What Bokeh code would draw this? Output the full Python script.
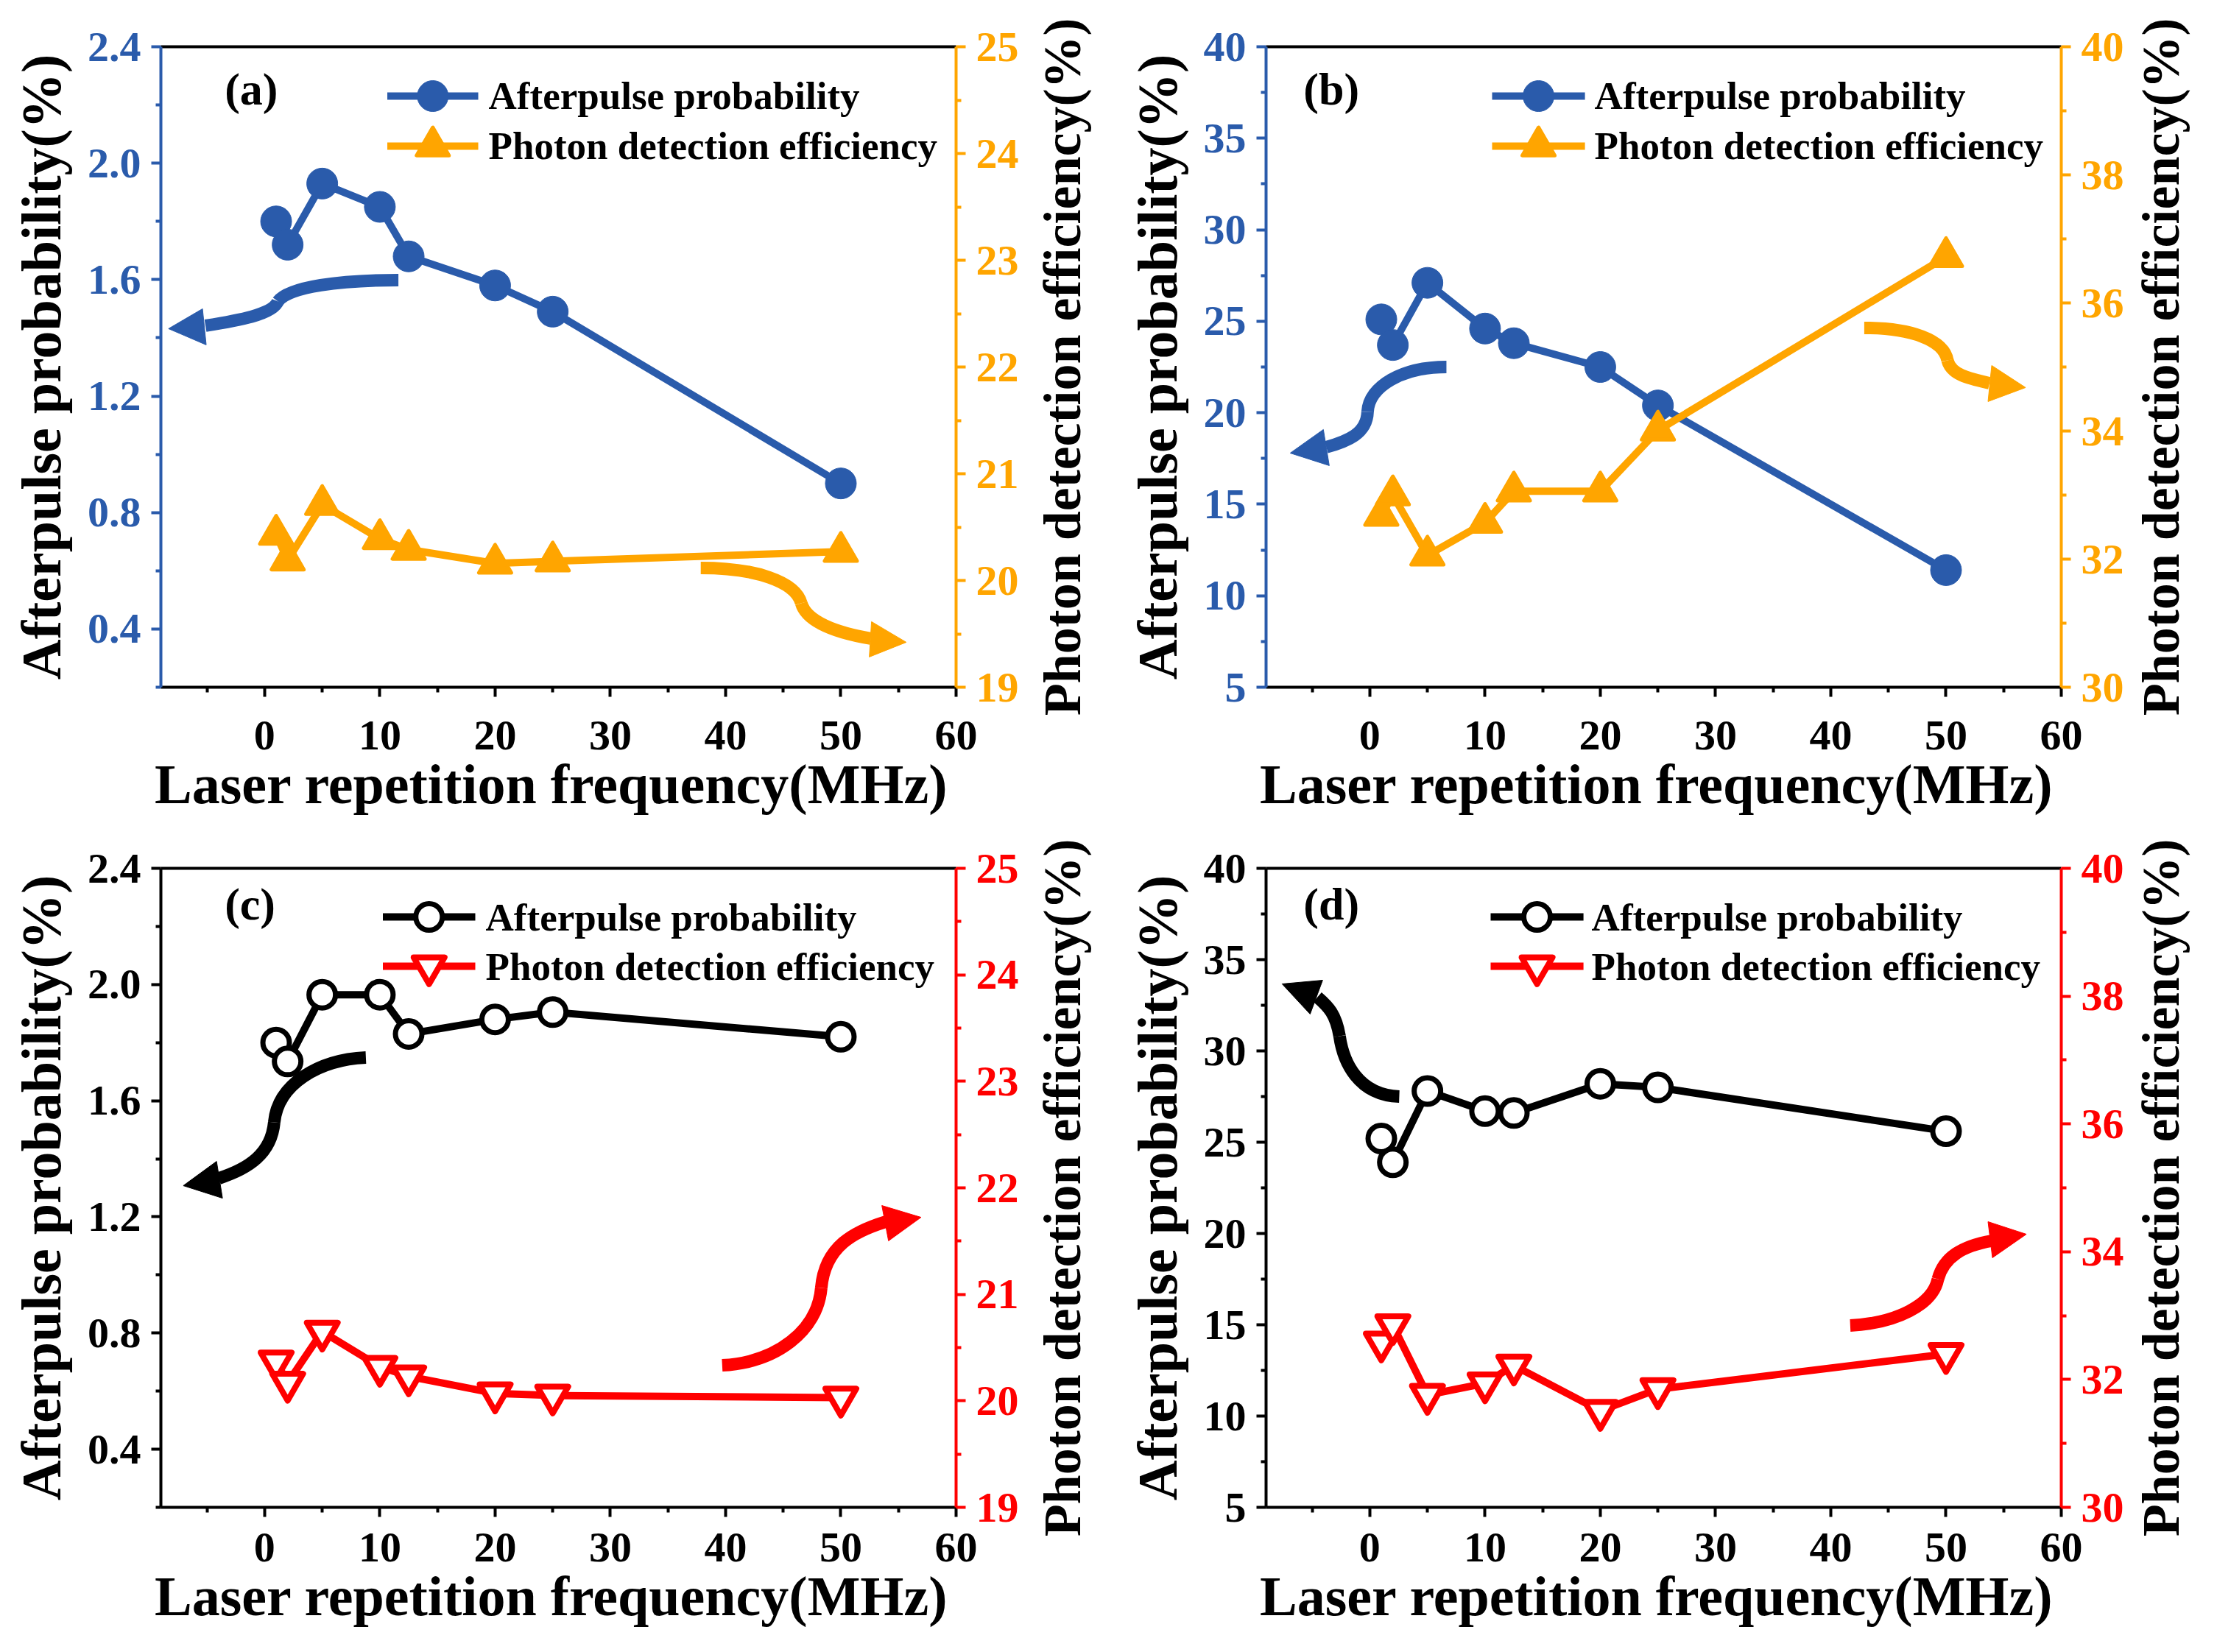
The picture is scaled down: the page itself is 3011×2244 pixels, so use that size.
from bokeh.plotting import figure
from bokeh.models import Range1d, LinearAxis, FixedTicker
from bokeh.layouts import gridplot
from bokeh.embed import file_html
from bokeh.resources import INLINE
from bokeh.core.properties import value

# ---------------- data ----------------
freq = [1, 2, 5, 10, 12.5, 20, 25, 50]

ap_a = [1.80, 1.72, 1.93, 1.85, 1.68, 1.58, 1.49, 0.90]
pde_a = [20.43, 20.19, 20.71, 20.39, 20.29, 20.16, 20.18, 20.27]

ap_b = [25.1, 23.7, 27.1, 24.6, 23.8, 22.5, 20.4, 11.4]
pde_b = [32.68, 33.00, 32.06, 32.57, 33.06, 33.06, 34.01, 36.72]

ap_c = [1.80, 1.735, 1.965, 1.965, 1.83, 1.88, 1.905, 1.82]
pde_c = [20.37, 20.17, 20.65, 20.32, 20.23, 20.07, 20.05, 20.03]

ap_d = [25.2, 23.9, 27.8, 26.7, 26.6, 28.2, 28.0, 25.6]
pde_d = [32.58, 32.85, 31.76, 31.94, 32.22, 31.51, 31.85, 32.40]

series_names = ["Afterpulse probability", "Photon detection efficiency"]
x_title = "Laser  repetition frequency(MHz)"
left_title = "Afterpulse probability(%)"
right_title = "Photon detection efficiency(%)"

x_ticks = [0, 10, 20, 30, 40, 50, 60]
x_minor = [-5, 5, 15, 25, 35, 45, 55]

ap_small_ticks = [0.4, 0.8, 1.2, 1.6, 2.0, 2.4]
ap_small_labels = ["0.4", "0.8", "1.2", "1.6", "2.0", "2.4"]
ap_small_minor = [0.2, 0.6, 1.0, 1.4, 1.8, 2.2]

ap_large_ticks = [5, 10, 15, 20, 25, 30, 35, 40]
ap_large_labels = ["5", "10", "15", "20", "25", "30", "35", "40"]
ap_large_minor = [7.5, 12.5, 17.5, 22.5, 27.5, 32.5, 37.5]

pde_small_ticks = [19, 20, 21, 22, 23, 24, 25]
pde_small_labels = ["19", "20", "21", "22", "23", "24", "25"]
pde_small_minor = [19.5, 20.5, 21.5, 22.5, 23.5, 24.5]

pde_large_ticks = [30, 32, 34, 36, 38, 40]
pde_large_labels = ["30", "32", "34", "36", "38", "40"]
pde_large_minor = [31, 33, 35, 37, 39]

BLUE = "#2A5BAB"
ORANGE = "#FFA500"
RED = "#FF0000"
BLACK = "#000000"
FONT = "Liberation Serif"

# calibration of reference pixels -> data (for annotations only)
CAL = {
    "a": dict(x0=367, xs=15.59, ytop=64, ypx=395.5, ymax=2.4),
    "b": dict(x0=1866, xs=15.64, ytop=64, ypx=24.86, ymax=40),
    "c": dict(x0=367, xs=15.59, ytop=1187, ypx=394.5, ymax=2.4),
    "d": dict(x0=1866, xs=15.64, ytop=1187, ypx=24.8, ymax=40),
}


def conv(tag, px, py):
    c = CAL[tag]
    return (px - c["x0"]) / c["xs"], c["ymax"] - (py - c["ytop"]) / c["ypx"]


ARROWS = {
    "a": [
        (BLUE, [(548, 381), (470, 381), (400, 390), (385, 410)],
         [(385, 410), (378, 428), (330, 436), (287, 443)],
         [(283, 420), (237, 447), (288, 469)]),
        (ORANGE, [(957, 772), (1030, 772), (1085, 790), (1093, 820)],
         [(1093, 820), (1100, 845), (1140, 860), (1187, 868)],
         [(1188, 845), (1235, 873), (1185, 893)]),
    ],
    "b": [
        (BLUE, [(1970, 499), (1910, 499), (1865, 525), (1863, 560)],
         [(1863, 560), (1862, 590), (1835, 600), (1807, 608)],
         [(1803, 584), (1758, 616), (1811, 633)]),
        (ORANGE, [(2537, 446), (2600, 446), (2645, 462), (2650, 490)],
         [(2650, 490), (2655, 510), (2680, 515), (2707, 521)],
         [(2710, 497), (2756, 527), (2705, 546)]),
    ],
    "c": [
        (BLACK, [(504, 1444), (440, 1447), (385, 1480), (380, 1532)],
         [(380, 1532), (376, 1575), (345, 1595), (305, 1608)],
         [(302, 1585), (257, 1618), (310, 1635)]),
        (RED, [(986, 1862), (1060, 1858), (1115, 1815), (1120, 1757)],
         [(1120, 1757), (1125, 1700), (1165, 1680), (1207, 1667)],
         [(1202, 1645), (1255, 1661), (1211, 1693)]),
    ],
    "d": [
        (BLACK, [(1906, 1497), (1850, 1495), (1830, 1450), (1825, 1415)],
         [(1825, 1415), (1820, 1385), (1810, 1375), (1795, 1362)],
         [(1802, 1339), (1747, 1344), (1785, 1385)]),
        (RED, [(2518, 1808), (2580, 1805), (2630, 1780), (2637, 1745)],
         [(2637, 1745), (2645, 1715), (2670, 1700), (2710, 1693)],
         [(2705, 1667), (2757, 1684), (2711, 1716)]),
    ],
}

TAG_POS = {"a": (313, 122), "b": (1776, 122), "c": (313, 1235), "d": (1776, 1235)}

# legend layout in reference pixels: line start, line end, text start, row1 y, row2 y
LEGEND_POS = {
    "a": (533, 656, 670, 131, 199),
    "b": (2032, 2158, 2171, 131, 199),
    "c": (527, 652, 666, 1253, 1320),
    "d": (2030, 2156, 2167, 1253, 1320),
}


def style_axis(ax, color, label_color=BLACK, standoff=14):
    ax.axis_line_color = color
    ax.axis_line_width = 4
    ax.major_tick_line_color = color
    ax.minor_tick_line_color = color
    ax.major_tick_line_width = 4
    ax.minor_tick_line_width = 4
    ax.major_tick_out = 13
    ax.major_tick_in = 0
    ax.minor_tick_out = 7
    ax.minor_tick_in = 0
    ax.major_label_text_color = color
    ax.major_label_text_font = FONT
    ax.major_label_text_font_style = "bold"
    ax.major_label_text_font_size = "58px"
    ax.major_label_standoff = standoff
    ax.axis_label_text_color = label_color
    ax.axis_label_text_font = FONT
    ax.axis_label_text_font_style = "bold"
    ax.axis_label_text_font_size = "76px"


def add_marks(p, xs, ys, color, open_mark, kind, y_range_name="default"):
    if kind == "circle":
        if open_mark:
            return p.scatter(xs, ys, marker="circle", size=36, fill_color="white",
                             line_color=color, line_width=7, y_range_name=y_range_name)
        return p.scatter(xs, ys, marker="circle", size=42, fill_color=color,
                         line_color=color, line_width=1, y_range_name=y_range_name)
    if open_mark:
        return p.scatter(xs, ys, marker="inverted_triangle", size=42, fill_color="white",
                         line_color=color, line_width=8, line_join="round",
                         y_range_name=y_range_name)
    return p.scatter(xs, ys, marker="triangle", size=44, fill_color=color,
                     line_color=color, line_width=5, line_join="round",
                     y_range_name=y_range_name)


def make_panel(tag, ap, pde, ap_rng, ap_t, ap_l, ap_m, pde_rng, pde_t, pde_l, pde_m,
               c_ap, c_pde, open_marks, height, top, bottom, xstand, left, right):
    p = figure(width=left + 1080 + right, height=height, x_range=Range1d(-9, 60),
               y_range=Range1d(*ap_rng), output_backend="svg", toolbar_location=None,
               min_border_left=left, min_border_right=right, min_border_top=top,
               min_border_bottom=bottom, outline_line_color=None)
    p.grid.visible = False
    p.extra_y_ranges = {"pde": Range1d(*pde_rng)}

    xa = p.xaxis[0]
    xa.ticker = FixedTicker(ticks=x_ticks, minor_ticks=x_minor)
    style_axis(xa, BLACK, standoff=xstand)
    xa.axis_label = x_title
    xa.axis_label_standoff = 2

    ya = p.yaxis[0]
    ya.ticker = FixedTicker(ticks=ap_t, minor_ticks=ap_m)
    ya.major_label_overrides = {t: l for t, l in zip(ap_t, ap_l)}
    style_axis(ya, c_ap)
    ya.axis_label = left_title
    ya.axis_label_standoff = 18

    ra = LinearAxis(y_range_name="pde",
                    ticker=FixedTicker(ticks=pde_t, minor_ticks=pde_m))
    ra.major_label_overrides = {t: l for t, l in zip(pde_t, pde_l)}
    style_axis(ra, c_pde)
    p.add_layout(ra, "right")

    ta = LinearAxis(ticker=FixedTicker(ticks=[]))
    ta.axis_line_color = BLACK
    ta.axis_line_width = 4
    ta.major_tick_line_color = None
    ta.minor_tick_line_color = None
    ta.major_label_text_font_size = "0px"
    p.add_layout(ta, "above")

    # curved arrows
    for color, b1, b2, head in ARROWS[tag]:
        for seg in (b1, b2):
            pts = [conv(tag, *q) for q in seg]
            p.bezier(x0=[pts[0][0]], y0=[pts[0][1]], cx0=[pts[1][0]], cy0=[pts[1][1]],
                     cx1=[pts[2][0]], cy1=[pts[2][1]], x1=[pts[3][0]], y1=[pts[3][1]],
                     line_color=color, line_width=17)
        hp = [conv(tag, *q) for q in head]
        p.patch([q[0] for q in hp], [q[1] for q in hp], fill_color=color, line_color=color,
                line_width=1)

    # series
    p.line(freq, ap, line_color=c_ap, line_width=10)
    p.line(freq, pde, line_color=c_pde, line_width=10, y_range_name="pde")
    add_marks(p, freq, ap, c_ap, open_marks, "circle")
    add_marks(p, freq, pde, c_pde, open_marks, "triangle", "pde")

    # legend (drawn in place, same glyph styles as the series)
    lx0, lx1, ltx, r1, r2 = LEGEND_POS[tag]
    for row_y, color, kind in ((r1, c_ap, "circle"), (r2, c_pde, "triangle")):
        (ax0, ay), (ax1, _) = conv(tag, lx0, row_y), conv(tag, lx1, row_y)
        p.line([ax0, ax1], [ay, ay], line_color=color, line_width=10)
        add_marks(p, [(ax0 + ax1) / 2], [ay], color, open_marks, kind)
    for row_y, name in zip((r1, r2), series_names):
        tx, ty = conv(tag, ltx, row_y)
        p.text(x=[tx], y=[ty], text=[name], text_font=value(FONT), text_font_style="bold",
               text_font_size="53px", text_baseline="middle", text_align="left",
               text_color=BLACK)

    tx, ty = conv(tag, *TAG_POS[tag])
    p.text(x=[tx], y=[ty], text=["(" + tag + ")"], text_font=value(FONT),
           text_font_style="bold", text_font_size="62px", text_baseline="middle",
           text_align="left", text_color=BLACK)
    return p


def right_title_strip(width, height, top, bottom, standoff):
    """Narrow figure whose only content is the right-hand axis title (reads bottom-to-top)."""
    s = figure(width=width, height=height, x_range=Range1d(0, 1), y_range=Range1d(0, 1),
               output_backend="svg", toolbar_location=None, outline_line_color=None,
               min_border_left=width - 4, min_border_right=0, min_border_top=top,
               min_border_bottom=bottom)
    s.grid.visible = False
    s.xaxis.visible = False
    ax = s.yaxis[0]
    ax.ticker = FixedTicker(ticks=[])
    ax.axis_line_color = None
    ax.major_tick_line_color = None
    ax.minor_tick_line_color = None
    ax.major_tick_out = 0
    ax.minor_tick_out = 0
    ax.major_label_standoff = 0
    ax.major_label_text_font_size = "0px"
    ax.axis_label = right_title
    ax.axis_label_text_font = FONT
    ax.axis_label_text_font_style = "bold"
    ax.axis_label_text_font_size = "72px"
    ax.axis_label_text_color = BLACK
    ax.axis_label_standoff = standoff
    return s


H1, T1, B1 = 1133, 63, 200
H2, T2, B2 = 1095, 46, 181

pa = make_panel("a", ap_a, pde_a, (0.2, 2.4), ap_small_ticks, ap_small_labels, ap_small_minor,
                (19, 25), pde_small_ticks, pde_small_labels, pde_small_minor,
                BLUE, ORANGE, False, H1, T1, B1, 33, 218, 92)
pb = make_panel("b", ap_b, pde_b, (5, 40), ap_large_ticks, ap_large_labels, ap_large_minor,
                (30, 40), pde_large_ticks, pde_large_labels, pde_large_minor,
                BLUE, ORANGE, False, H1, T1, B1, 33, 219, 91)
pc = make_panel("c", ap_c, pde_c, (0.2, 2.4), ap_small_ticks, ap_small_labels, ap_small_minor,
                (19, 25), pde_small_ticks, pde_small_labels, pde_small_minor,
                BLACK, RED, True, H2, T2, B2, 22, 218, 92)
pd_ = make_panel("d", ap_d, pde_d, (5, 40), ap_large_ticks, ap_large_labels, ap_large_minor,
                 (30, 40), pde_large_ticks, pde_large_labels, pde_large_minor,
                 BLACK, RED, True, H2, T2, B2, 22, 219, 91)

ra_top = right_title_strip(110, H1, T1, B1, 14)
rb_top = right_title_strip(103, H1, T1, B1, 15)
ra_bot = right_title_strip(110, H2, T2, B2, 14)
rb_bot = right_title_strip(103, H2, T2, B2, 15)

grid = gridplot([[pa, ra_top, pb, rb_top], [pc, ra_bot, pd_, rb_bot]], toolbar_location=None)

open("out.html", "w").write(file_html(grid, INLINE))
